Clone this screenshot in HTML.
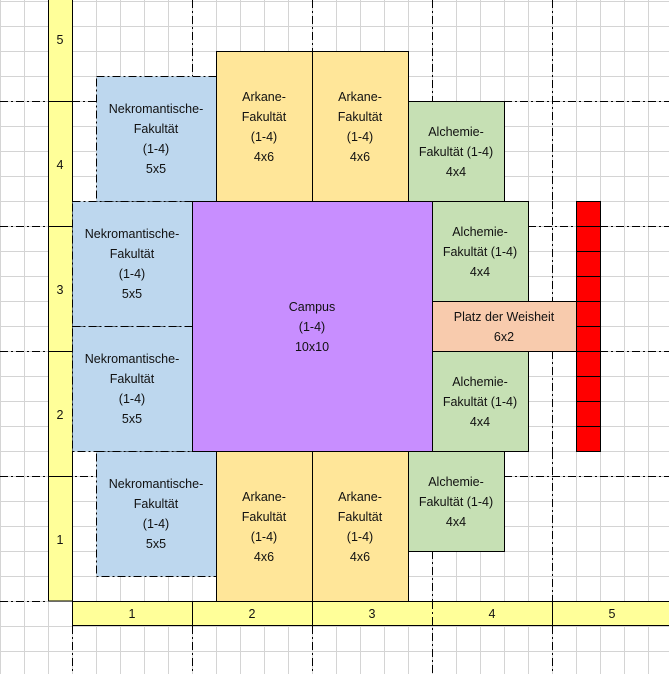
<!DOCTYPE html>
<html><head><meta charset="utf-8"><style>
html,body{margin:0;padding:0;background:#fff;}
svg{display:block;}
text{font-family:"Liberation Sans",sans-serif;font-size:12.5px;fill:#111;text-anchor:middle;}
</style></head><body>
<svg width="669" height="674" viewBox="0 0 669 674" xmlns="http://www.w3.org/2000/svg">
<defs>
<pattern id="g" x="0" y="1" width="24" height="25" patternUnits="userSpaceOnUse">
<path d="M0 0.5H24M0.5 0V25" stroke="#d4d4d4" stroke-width="1" fill="none"/>
</pattern>
</defs>
<rect x="0" y="0" width="669" height="674" fill="#fff"/>
<rect x="-0.5" y="0" width="670" height="674" fill="url(#g)"/>

<rect x="48.5" y="-1" width="24" height="602" fill="#FFFF99" stroke="#000"/>
<rect x="72.5" y="601.5" width="600" height="24" fill="#FFFF99" stroke="#000"/>
<g stroke="#000" stroke-width="1">
<path d="M48 101.5H72M48 226.5H72M48 351.5H72M48 476.5H72"/>
<path d="M192.5 601V626M312.5 601V626M552.5 601V626"/>
</g>
<text x="60" y="44">5</text><text x="60" y="169">4</text><text x="60" y="294">3</text><text x="60" y="419">2</text><text x="60" y="544">1</text>
<text x="132" y="618">1</text><text x="252" y="618">2</text><text x="372" y="618">3</text><text x="492" y="618">4</text><text x="612" y="618">5</text>

<g stroke="#000" stroke-width="1" stroke-dasharray="8,3,2,3" fill="none">
<path d="M0 101.5H48M72 101.5H96M504 101.5H669"/>
<path d="M0 226.5H48M528 226.5H576M600 226.5H669"/>
<path d="M0 351.5H48M528 351.5H576M600 351.5H669"/>
<path d="M0 476.5H96M504 476.5H669"/>
<path d="M0 601.5H48"/>
<path d="M192.5 0V76M312.5 0V51M432.5 0V101M552.5 0V201M552.5 201V301M552.5 351V451M552.5 451V601"/>
<path d="M72.5 626V674M192.5 626V674M312.5 626V674M432.5 601V674M552.5 626V674"/>
<path d="M432.5 551V601"/>
</g>

<g fill="#BDD7EE" stroke="#000" stroke-dasharray="8,3,2,3">
<rect x="96.5" y="76.5" width="120" height="125"/>
<rect x="72.5" y="201.5" width="120" height="125"/>
<rect x="72.5" y="326.5" width="120" height="125"/>
<rect x="96.5" y="451.5" width="120" height="125"/>
</g>
<g>
<text x="156" y="113">Nekromantische-</text><text x="156" y="133">Fakultät</text><text x="156" y="153">(1-4)</text><text x="156" y="173">5x5</text>
<text x="132" y="238">Nekromantische-</text><text x="132" y="258">Fakultät</text><text x="132" y="278">(1-4)</text><text x="132" y="298">5x5</text>
<text x="132" y="363">Nekromantische-</text><text x="132" y="383">Fakultät</text><text x="132" y="403">(1-4)</text><text x="132" y="423">5x5</text>
<text x="156" y="488">Nekromantische-</text><text x="156" y="508">Fakultät</text><text x="156" y="528">(1-4)</text><text x="156" y="548">5x5</text>
</g>

<g fill="#FFE699" stroke="#000">
<rect x="216.5" y="51.5" width="96" height="150"/>
<rect x="312.5" y="51.5" width="96" height="150"/>
<rect x="216.5" y="451.5" width="96" height="150"/>
<rect x="312.5" y="451.5" width="96" height="150"/>
</g>
<text x="264" y="101">Arkane-</text><text x="264" y="121">Fakultät</text><text x="264" y="141">(1-4)</text><text x="264" y="161">4x6</text>
<text x="360" y="101">Arkane-</text><text x="360" y="121">Fakultät</text><text x="360" y="141">(1-4)</text><text x="360" y="161">4x6</text>
<text x="264" y="501">Arkane-</text><text x="264" y="521">Fakultät</text><text x="264" y="541">(1-4)</text><text x="264" y="561">4x6</text>
<text x="360" y="501">Arkane-</text><text x="360" y="521">Fakultät</text><text x="360" y="541">(1-4)</text><text x="360" y="561">4x6</text>

<g fill="#C6E0B4" stroke="#000">
<rect x="408.5" y="101.5" width="96" height="100"/>
<rect x="432.5" y="201.5" width="96" height="100"/>
<rect x="432.5" y="351.5" width="96" height="100"/>
<rect x="408.5" y="451.5" width="96" height="100"/>
</g>
<text x="456" y="136">Alchemie-</text><text x="456" y="156">Fakultät (1-4)</text><text x="456" y="176">4x4</text>
<text x="480" y="236">Alchemie-</text><text x="480" y="256">Fakultät (1-4)</text><text x="480" y="276">4x4</text>
<text x="480" y="386">Alchemie-</text><text x="480" y="406">Fakultät (1-4)</text><text x="480" y="426">4x4</text>
<text x="456" y="486">Alchemie-</text><text x="456" y="506">Fakultät (1-4)</text><text x="456" y="526">4x4</text>

<rect x="432.5" y="301.5" width="144" height="50" fill="#F8CBAD" stroke="#000"/>
<text x="504" y="321">Platz der Weisheit</text><text x="504" y="341">6x2</text>

<rect x="192.5" y="201.5" width="240" height="250" fill="#C88EFF" stroke="#000"/>
<path d="M192.5 201V451" stroke="#000" stroke-dasharray="8,3,2,3"/>
<text x="312" y="311">Campus</text><text x="312" y="331">(1-4)</text><text x="312" y="351">10x10</text>

<g fill="#FF0000" stroke="#000">
<rect x="576.5" y="201.5" width="24" height="25"/>
<rect x="576.5" y="226.5" width="24" height="25"/>
<rect x="576.5" y="251.5" width="24" height="25"/>
<rect x="576.5" y="276.5" width="24" height="25"/>
<rect x="576.5" y="301.5" width="24" height="25"/>
<rect x="576.5" y="326.5" width="24" height="25"/>
<rect x="576.5" y="351.5" width="24" height="25"/>
<rect x="576.5" y="376.5" width="24" height="25"/>
<rect x="576.5" y="401.5" width="24" height="25"/>
<rect x="576.5" y="426.5" width="24" height="25"/>
</g>
</svg>
</body></html>
